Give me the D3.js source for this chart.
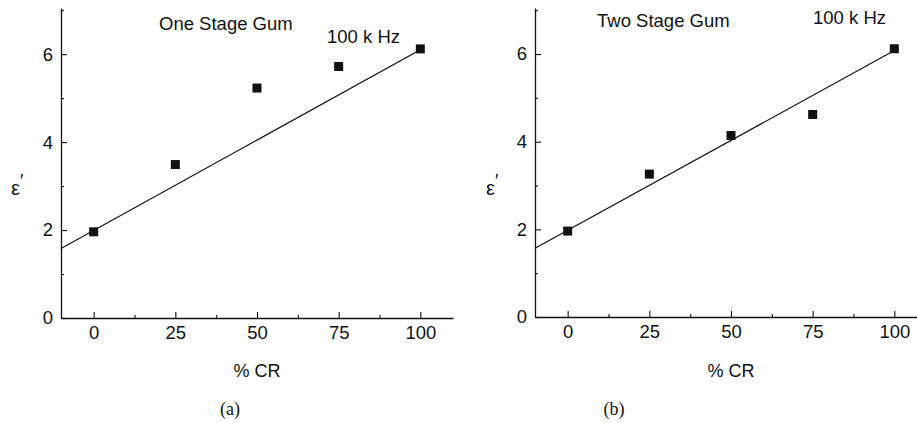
<!DOCTYPE html>
<html>
<head>
<meta charset="utf-8">
<script src="https://cdn.jsdelivr.net/npm/d3@7"></script>
<style>
  body { margin: 0; background: #fff; }
  svg { display: block; }
</style>
</head>
<body>
<script>
// data
let crPercent = [0, 25, 50, 75, 100];
let oneStage = [1.96, 3.49, 5.23, 5.72, 6.12];
let twoStage = [1.96, 3.26, 4.14, 4.62, 6.12];
// straight fit lines
let oneStageFit = [[-10, 1.58], [100, 6.1]];
let twoStageFit = [[-10, 1.57], [100, 6.08]];
let xMajorTicks = [0, 25, 50, 75, 100];
let xMinorTicks = [12.5, 37.5, 62.5, 87.5];
let yMajorTicks = [0, 2, 4, 6];
let yMinorTicks = [1, 3, 5, 7];

let svgWidth = 917;
let svgHeight = 423;

let sans = "'Liberation Sans', Arial, sans-serif";
let serif = "'Liberation Serif', 'Times New Roman', serif";
let fontSize = 18.5;

let svg = d3.select("body")
  .append("svg")
  .attr("width", svgWidth)
  .attr("height", svgHeight);

function styleAxis(a) {
  a.attr("font-family", sans).attr("font-size", fontSize);
  a.select(".domain").attr("stroke", "#111").attr("stroke-width", 1.3);
  a.selectAll(".tick line").attr("stroke", "#111").attr("stroke-width", 1.1);
  a.selectAll(".tick text").attr("fill", "#111");
}

function addText(g, x, y, txt, family, anchor, size) {
  return g.append("text")
    .attr("x", x)
    .attr("y", y)
    .attr("font-family", family)
    .attr("font-size", size || fontSize)
    .attr("fill", "#111")
    .attr("text-anchor", anchor || "start")
    .text(txt);
}

function drawPanel(p) {
  let x = d3.scaleLinear().domain([-10, 110]).range([p.left, p.left + 392]);
  let y = d3.scaleLinear().domain([0, 7.05]).range([p.bottom, 8]);

  let g = svg.append("g");

  // x axis, ticks pointing inward
  g.append("g")
    .attr("transform", "translate(0," + p.bottom + ")")
    .call(d3.axisBottom(x).tickValues(xMajorTicks).tickFormat(d3.format("d"))
      .tickSizeInner(-6).tickSizeOuter(0).tickPadding(8))
    .call(styleAxis);
  g.append("g")
    .attr("transform", "translate(0," + p.bottom + ")")
    .call(d3.axisBottom(x).tickValues(xMinorTicks).tickSizeInner(-3).tickSizeOuter(0).tickFormat(""))
    .call(styleAxis)
    .call(a => a.select(".domain").remove());

  // y axis
  g.append("g")
    .attr("transform", "translate(" + p.left + ",0)")
    .call(d3.axisLeft(y).tickValues(yMajorTicks).tickFormat(d3.format("d"))
      .tickSizeInner(-6).tickSizeOuter(0).tickPadding(8))
    .call(styleAxis);
  g.append("g")
    .attr("transform", "translate(" + p.left + ",0)")
    .call(d3.axisLeft(y).tickValues(yMinorTicks).tickSizeInner(-3).tickSizeOuter(0).tickFormat(""))
    .call(styleAxis)
    .call(a => a.select(".domain").remove());

  // fit line
  g.append("path")
    .datum(p.fit)
    .attr("fill", "none")
    .attr("stroke", "#111")
    .attr("stroke-width", 1.2)
    .attr("d", d3.line().x(d => x(d[0])).y(d => y(d[1])));

  // markers
  g.selectAll(".pt")
    .data(crPercent.map((c, i) => [c, p.values[i]]))
    .enter()
    .append("rect")
      .attr("class", "pt")
      .attr("x", d => x(d[0]) - 4.5)
      .attr("y", d => y(d[1]) - 4.5)
      .attr("width", 9)
      .attr("height", 9)
      .attr("fill", "#111");

  // texts
  addText(g, p.titleX, p.titleY, p.title, sans);
  addText(g, p.freqX, p.freqY, "100 k Hz", sans);
  addText(g, x(50), 377, "% CR", sans, "middle", 18);
  addText(g, p.capX, 415, p.caption, serif, "middle", 18);

  // epsilon prime label
  let eps = addText(g, p.epsX, 195, "", sans, "start", 20);
  eps.append("tspan").text("ε");
  eps.append("tspan").attr("dy", -8).attr("font-size", 18).text("′");
}

drawPanel({
  left: 61, bottom: 318, values: oneStage, fit: oneStageFit,
  title: "One Stage Gum", titleX: 159, titleY: 30,
  freqX: 327, freqY: 43, caption: "(a)", capX: 230, epsX: 11
});

drawPanel({
  left: 535, bottom: 317, values: twoStage, fit: twoStageFit,
  title: "Two Stage Gum", titleX: 597, titleY: 27,
  freqX: 813, freqY: 24, caption: "(b)", capX: 614, epsX: 486
});
</script>
</body>
</html>
